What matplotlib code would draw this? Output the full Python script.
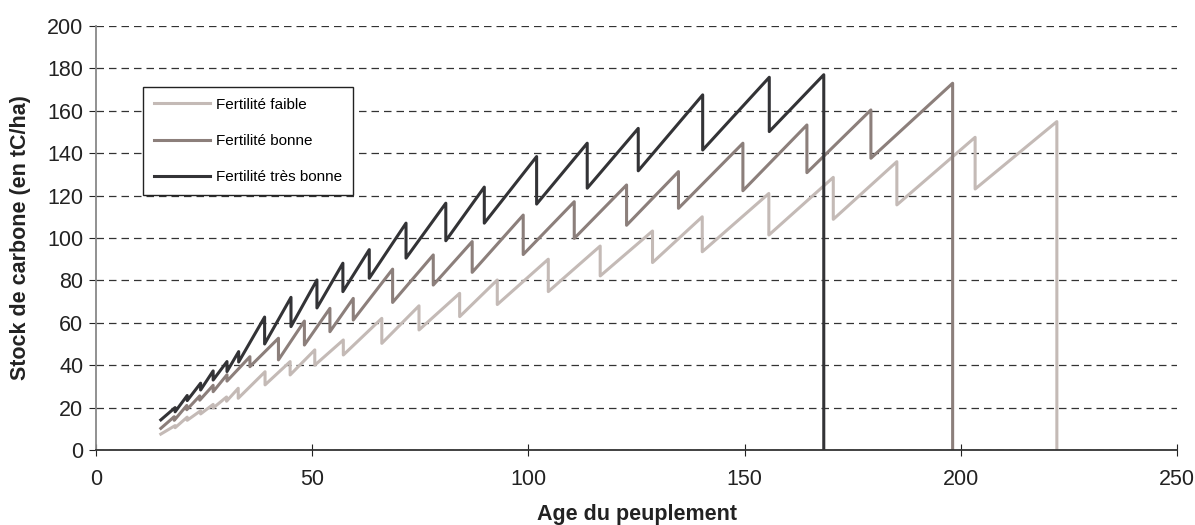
import matplotlib.pyplot as plt

# Age du peuplement / stock de carbone
age_faible = [15, 18.3, 18.3, 21.1, 21.1, 24.2, 24.2, 27.1, 27.1, 30.2, 30.2, 32.9, 32.9,
              39.1, 39.1, 44.9, 44.9, 50.6, 50.6, 57.2, 57.2, 66.1, 66.1, 74.7, 74.7,
              84.1, 84.1, 92.8, 92.8, 104.6, 104.6, 116.6, 116.6, 128.7, 128.7,
              140.2, 140.2, 155.6, 155.6, 170.5, 170.5, 185.2, 185.2, 203.3, 203.3, 222.2, 222.2]
stock_faible = [7.5, 11.5, 10.5, 15.5, 14, 18.5, 17, 21.5, 19.8, 25, 23, 29.1, 24.4,
                36.9, 30.7, 41.7, 35.4, 47.2, 40, 51.9, 44.8, 62.1, 50.3, 68, 56.6,
                73.9, 62.9, 80.2, 68.6, 90, 74.7, 96.2, 82.1, 103.3, 88.4,
                110, 93.5, 121, 101.4, 128.6, 108.8, 136, 115.6, 147.5, 123.1, 154.9, 0]

age_bonne = [15, 18.1, 18.1, 21.0, 21.0, 24.0, 24.0, 27.1, 27.1, 30.3, 30.3, 35.6, 35.6,
             42.2, 42.2, 48.2, 48.2, 54.1, 54.1, 59.5, 59.5, 68.6, 68.6, 78, 78,
             87, 87, 98.8, 98.8, 110.6, 110.6, 122.7, 122.7, 134.7, 134.7,
             149.6, 149.6, 164.4, 164.4, 179.2, 179.2, 198.1, 198.1]
stock_bonne = [10.2, 15.7, 14, 21, 19, 25.5, 23.5, 30.5, 27.5, 35.5, 32.5, 44, 39.3,
               52.7, 42.5, 60.8, 49.5, 66.8, 55.8, 71.5, 61.3, 85.3, 69.6, 92, 77.8,
               98.3, 83.8, 110.8, 92.2, 117.1, 99.8, 125, 106, 131.3, 114,
               144.7, 122.3, 153.3, 130.8, 160.4, 137.6, 173, 0]

age_tres_bonne = [15, 18.3, 18.3, 21.1, 21.1, 24.2, 24.2, 27.1, 27.1, 30.3, 30.3, 33, 33,
                  39, 39, 45.1, 45.1, 51.1, 51.1, 57.1, 57.1, 63.2, 63.2, 71.7, 71.7,
                  80.9, 80.9, 89.8, 89.8, 101.9, 101.9, 113.6, 113.6, 125.4, 125.4,
                  140.3, 140.3, 155.7, 155.7, 168.3, 168.3]
stock_tres_bonne = [14.2, 20, 18, 25.7, 23.3, 31.5, 28.3, 37.3, 33, 41.7, 37, 46.4, 41.5,
                    62.7, 50, 72, 58.2, 80.2, 67, 88.1, 74.7, 94.5, 81, 107, 90.5,
                    116.4, 98.7, 124, 107, 138.4, 116, 144.7, 123.5, 151.7, 131.7,
                    167.5, 141.5, 175.8, 150.2, 177, 0]

plt.rcParams['font.family'] = ['Liberation Sans', 'DejaVu Sans']

fig = plt.figure(figsize=(11.95, 5.25), dpi=100)
ax = fig.add_axes([0.0803, 0.1429, 0.9047, 0.8076])

ax.plot(age_faible, stock_faible, color='#c4bab6', lw=2.2, label='Fertilité faible')
ax.plot(age_bonne, stock_bonne, color='#8c7f7b', lw=2.2, label='Fertilité bonne')
ax.plot(age_tres_bonne, stock_tres_bonne, color='#333336', lw=2.2, label='Fertilité très bonne')

ax.set_xlim(0, 250)
ax.set_ylim(0, 200)
ax.set_xticks(range(0, 251, 50))
ax.set_yticks(range(0, 201, 20))
ax.tick_params(axis='both', labelsize=15.5, colors='#222222', length=5)
ax.tick_params(axis='y', direction='out', pad=4)
ax.tick_params(axis='x', direction='inout', length=8, pad=10)

ax.yaxis.grid(True, linestyle=(0, (6, 4)), color='#333333', lw=0.9)
ax.set_axisbelow(True)
for s in ['top', 'right']:
    ax.spines[s].set_visible(False)
ax.spines['left'].set_color('#888888')
ax.spines['left'].set_linewidth(1.3)
ax.spines['bottom'].set_color('#333333')
ax.spines['bottom'].set_linewidth(1.3)

ax.set_xlabel('Age du peuplement', fontsize=15.5, fontweight='bold', color='#222222', labelpad=10)
ax.set_ylabel('Stock de carbone (en tC/ha)', fontsize=15.5, fontweight='bold', color='#222222', labelpad=12)

leg = ax.legend(loc='upper left', bbox_to_anchor=(0.0435, 0.856), borderaxespad=0,
                fontsize=11, handlelength=3.7, handletextpad=0.4, labelspacing=1.45,
                fancybox=False, edgecolor='#222222', framealpha=1, borderpad=0.7)
leg.get_frame().set_linewidth(1.0)

plt.savefig('out.png', dpi=100)
